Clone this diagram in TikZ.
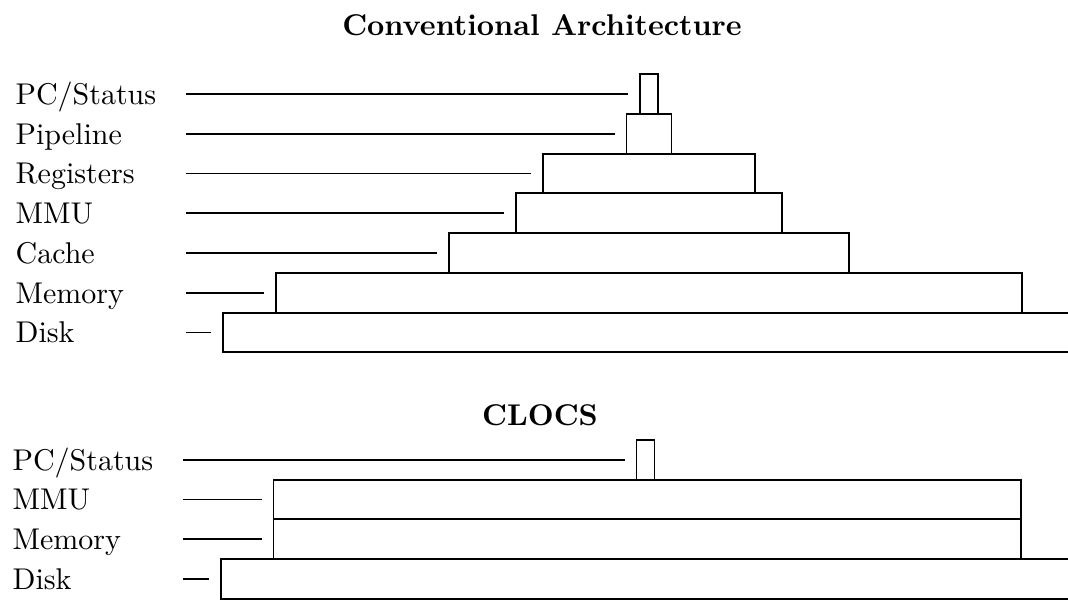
\documentclass[tikz,border=0pt]{standalone}
\usetikzlibrary{positioning}
\tikzstyle{layer} = [
  rectangle,
  draw=black,
  line width=0.65pt,
  inner sep=0pt,
  outer sep=0pt,
  minimum height=13.25pt
]
\tikzstyle{levelname} = [
  anchor=west,
  inner sep=0pt,
  text width=56.67pt,
  text height=6.83pt,
  text depth=0pt,
  align=left
]
\tikzstyle{heading} = [anchor=base, font=\bfseries]
\tikzstyle{leader} = [line width=0.65pt, shorten >=4pt]

\begin{document}
\begin{tikzpicture}[x=0.33333pt, y=-0.33333pt, node distance=0pt]
    \clip (0,0) rectangle (1068,599);

    \node (conv-title) [heading] at (542,35) {Conventional Architecture};
    \node (conv-disk) [layer, minimum width=284pt] at (649,332.5) {};
    \node (conv-memory) [layer, minimum width=248.67pt, above=of conv-disk] {};
    \node (conv-cache) [layer, minimum width=133.33pt, above=of conv-memory] {};
    \node (conv-mmu) [layer, minimum width=88.67pt, above=of conv-cache] {};
    \node (conv-registers) [layer, minimum width=70.67pt, above=of conv-mmu] {};
    \node (conv-pipeline) [layer, minimum width=15pt, above=of conv-registers] {};
    \node (conv-pc) [layer, minimum width=6pt, above=of conv-pipeline] {};

    \node (conv-pc-name) [levelname] at (15,0 |- conv-pc) {PC/Status};
    \node (conv-pipeline-name) [levelname] at (15,0 |- conv-pipeline) {Pipeline};
    \node (conv-registers-name) [levelname] at (15,0 |- conv-registers) {Registers};
    \node (conv-mmu-name) [levelname] at (15,0 |- conv-mmu) {MMU};
    \node (conv-cache-name) [levelname] at (15,0 |- conv-cache) {Cache};
    \node (conv-memory-name) [levelname] at (15,0 |- conv-memory) {Memory};
    \node (conv-disk-name) [levelname] at (15,0 |- conv-disk) {Disk};

    \draw [leader] (conv-pc-name.east) -- (conv-pc.west);
    \draw [leader] (conv-pipeline-name.east) -- (conv-pipeline.west);
    \draw [leader] (conv-registers-name.east) -- (conv-registers.west);
    \draw [leader] (conv-mmu-name.east) -- (conv-mmu.west);
    \draw [leader] (conv-cache-name.east) -- (conv-cache.west);
    \draw [leader] (conv-memory-name.east) -- (conv-memory.west);
    \draw [leader] (conv-disk-name.east) -- (conv-disk.west);

    \node (clocs-title) [heading] at (540,425) {CLOCS};
    \node (clocs-disk) [layer, minimum width=284pt] at (647,579) {};
    \node (clocs-memory) [layer, minimum width=249pt, above=of clocs-disk] {};
    \node (clocs-mmu) [layer, minimum width=249pt, above=of clocs-memory] {};
    \node (clocs-pc) [layer, minimum width=6pt, above=of clocs-mmu, xshift=-0.5pt] {};

    \node (clocs-pc-name) [levelname] at (12,0 |- clocs-pc) {PC/Status};
    \node (clocs-mmu-name) [levelname] at (12,0 |- clocs-mmu) {MMU};
    \node (clocs-memory-name) [levelname] at (12,0 |- clocs-memory) {Memory};
    \node (clocs-disk-name) [levelname] at (12,0 |- clocs-disk) {Disk};

    \draw [leader] (clocs-pc-name.east) -- (clocs-pc.west);
    \draw [leader] (clocs-mmu-name.east) -- (clocs-mmu.west);
    \draw [leader] (clocs-memory-name.east) -- (clocs-memory.west);
    \draw [leader] (clocs-disk-name.east) -- (clocs-disk.west);
  \end{tikzpicture}
\end{document}
